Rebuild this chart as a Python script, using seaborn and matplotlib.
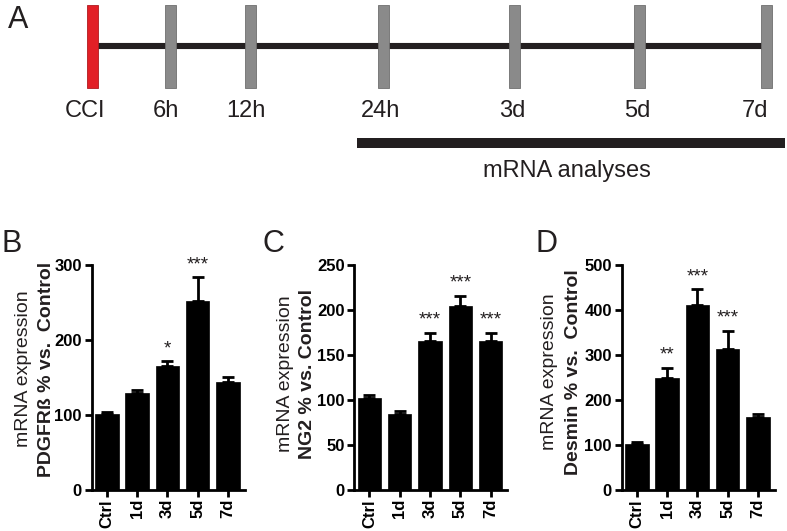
import numpy as np
import pandas as pd
import matplotlib
matplotlib.use("Agg")
import matplotlib.pyplot as plt
import seaborn as sns

# ---------------- data ----------------
days = ["Ctrl", "1d", "3d", "5d", "7d"]

pdgfrb_mean = [101, 129, 165, 252, 144]
pdgfrb_sem = [3, 5, 7, 32, 7]
pdgfrb_sig = ["", "", "*", "***", ""]

ng2_mean = [102, 85, 166, 205, 166]
ng2_sem = [4, 3, 9, 11, 9]
ng2_sig = ["", "", "***", "***", "***"]

desmin_mean = [103, 248, 411, 314, 163]
desmin_sem = [3, 24, 35, 40, 6]
desmin_sig = ["", "**", "***", "***", ""]

timeline_labels = ["CCI", "6h", "12h", "24h", "3d", "5d", "7d"]
timeline_pos = [92.5, 170, 250.5, 383.5, 514, 639, 766]
timeline_label_pos = [85, 166, 246, 381, 512, 637, 755]
analysis_span = [357, 785]

# ---------------- style ----------------
sns.set_style("ticks")
plt.rcParams["font.family"] = ["Liberation Sans", "DejaVu Sans"]
DARK = "#231f20"

W, H = 787, 531
fig = plt.figure(figsize=(W / 100, H / 100), dpi=100)


def fx(x):
    return x / W


def fy(y):
    return 1 - y / H


# ---------------- panel A: timeline ----------------
ax0 = fig.add_axes([0, fy(190), 1, 190 / H])
ax0.set_xlim(0, W)
ax0.set_ylim(190, 0)
ax0.axis("off")
ax0.plot([timeline_pos[0], timeline_pos[-1]], [46, 46], color=DARK, lw=4.4,
         solid_capstyle="butt", zorder=1)
cols = ["#e21f26"] + ["#8a8a8a"] * (len(timeline_pos) - 1)
edges = ["#b01a1f"] + ["#6e6e6e"] * (len(timeline_pos) - 1)
ax0.bar(timeline_pos, 83, bottom=5, width=11, color=cols, edgecolor=edges,
        linewidth=0.6, zorder=2)
for lab, x in zip(timeline_labels, timeline_label_pos):
    ax0.text(x, 117, lab, ha="center", va="baseline", fontsize=17, color=DARK)
ax0.plot(analysis_span, [143, 143], color=DARK, lw=7.2, solid_capstyle="butt")
ax0.text(np.mean(analysis_span) - 4, 177, "mRNA analyses", ha="center",
         va="baseline", fontsize=17, color=DARK)
fig.text(fx(8), fy(28), "A", fontsize=22, color=DARK, ha="left", va="baseline")

# ---------------- panels B-D ----------------
panels = [
    dict(letter="B", letter_x=1, gene="PDGFRß % vs.  Control", mean=pdgfrb_mean,
         sem=pdgfrb_sem, sig=pdgfrb_sig, ymax=300, step=100, left=91.7,
         lab1=24, lab2=47, labc=369),
    dict(letter="C", letter_x=262, gene="NG2 % vs. Control", mean=ng2_mean,
         sem=ng2_sem, sig=ng2_sig, ymax=250, step=50, left=354.3,
         lab1=285, lab2=308, labc=374),
    dict(letter="D", letter_x=535, gene="Desmin % vs.  Control", mean=desmin_mean,
         sem=desmin_sem, sig=desmin_sig, ymax=500, step=100, left=621.7,
         lab1=550, lab2=573, labc=372),
]

top_px, bot_px, width_px = 265, 490, 153

for p in panels:
    ax = fig.add_axes([fx(p["left"]), fy(bot_px), width_px / W, (bot_px - top_px) / H])
    df = pd.DataFrame({"day": days, "value": p["mean"]})
    sns.barplot(data=df, x="day", y="value", color="black", width=0.77,
                errorbar=None, ax=ax, saturation=1, edgecolor="black", linewidth=0.5)
    xs = np.arange(len(days))
    ax.errorbar(xs, p["mean"], yerr=[np.zeros(len(days)), p["sem"]], fmt="none",
                ecolor="black", elinewidth=2, capsize=4, capthick=2, zorder=3)
    for x, m, s, star in zip(xs, p["mean"], p["sem"], p["sig"]):
        if star:
            ax.annotate(star, (x, m + s), xytext=(0, 9), textcoords="offset points",
                        ha="center", va="center", fontsize=13.5, color=DARK,
                        annotation_clip=False)
    ax.set_xlim(-0.5, 4.55)
    ax.set_ylim(0, p["ymax"])
    ax.set_yticks(np.arange(0, p["ymax"] + 1, p["step"]))
    ax.set_xlabel("")
    ax.set_ylabel("")
    sns.despine(ax=ax)
    for sp in ("left", "bottom"):
        ax.spines[sp].set_linewidth(2)
        ax.spines[sp].set_color("black")
    ax.tick_params(axis="both", width=2, length=5, color="black", direction="out")
    ax.tick_params(axis="y", labelsize=12, pad=2)
    ax.tick_params(axis="x", labelsize=12, pad=1.5, labelrotation=90)
    for t in ax.get_xticklabels() + ax.get_yticklabels():
        t.set_fontweight("bold")
        t.set_color("black")
    fig.text(fx(p["lab1"]), fy(p["labc"]), "mRNA expression", rotation=90,
             ha="center", va="center", fontsize=14, color=DARK)
    fig.text(fx(p["lab2"]), fy(p["labc"]), p["gene"], rotation=90,
             ha="center", va="center", fontsize=14, fontweight="bold", color=DARK)
    fig.text(fx(p["letter_x"]), fy(252), p["letter"], fontsize=22, color=DARK,
             ha="left", va="baseline")

fig.savefig("out.png", dpi=100)
